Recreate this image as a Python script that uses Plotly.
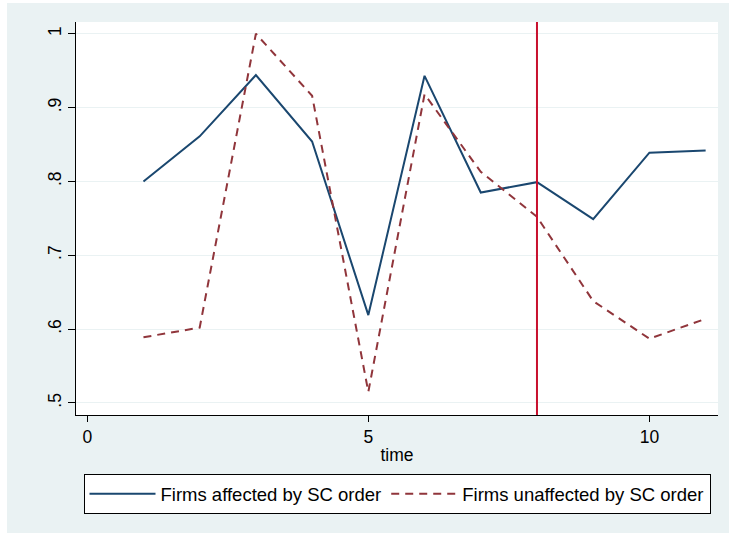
import plotly.graph_objects as go

time = [1, 2, 3, 4, 5, 6, 7, 8, 9, 10, 11]
affected = [0.800, 0.861, 0.944, 0.854, 0.619, 0.943, 0.785, 0.799, 0.749, 0.839, 0.842]
unaffected = [0.589, 0.602, 1.000, 0.916, 0.515, 0.918, 0.813, 0.752, 0.638, 0.587, 0.614]
event_time = 8
y_ticks = [0.5, 0.6, 0.7, 0.8, 0.9, 1.0]
y_ticktext = [".5", ".6", ".7", ".8", ".9", "1"]
x_ticks = [0, 5, 10]

BG = "#EAF2F3"
FONT = "Liberation Sans, Arial, sans-serif"
FS = 17.5

fig = go.Figure()
fig.add_trace(go.Scatter(x=time, y=affected, mode="lines", name="Firms affected by SC order",
                         line=dict(color="#1A476F", width=2)))
fig.add_trace(go.Scatter(x=time, y=unaffected, mode="lines", name="Firms unaffected by SC order",
                         line=dict(color="#90353B", width=2, dash="8px,6px")))

fig.add_vline(x=event_time, line=dict(color="#C8102E", width=2), layer="above")

# white outer border strips (outside the light background)
fig.add_shape(type="rect", xref="paper", yref="paper", x0=-0.3, x1=-0.1075, y0=-0.5, y1=1.3,
              fillcolor="white", line_width=0, layer="above")
fig.add_shape(type="rect", xref="paper", yref="paper", x0=-0.3, x1=1.3, y0=1.0484, y1=1.3,
              fillcolor="white", line_width=0, layer="above")

fig.update_layout(
    width=729, height=533,
    margin=dict(l=76, r=11, t=22, b=118),
    paper_bgcolor=BG, plot_bgcolor="white",
    font=dict(family=FONT, size=FS, color="black"),
    showlegend=True,
    legend=dict(orientation="h", x=0.5, xanchor="center", y=-0.151, yanchor="top",
                bgcolor="white", bordercolor="black", borderwidth=1,
                font=dict(size=18.5), itemwidth=66),
)
fig.update_xaxes(range=[-0.2, 11.22], tickvals=x_ticks, showgrid=False, zeroline=False,
                 showline=True, linecolor="black", linewidth=1,
                 ticks="outside", ticklen=6, tickcolor="black",
                 title=dict(text="time", standoff=2, font=dict(size=FS)))
fig.update_yaxes(range=[0.4837, 1.0159], tickvals=y_ticks, ticktext=y_ticktext,
                 tickangle=-90, showgrid=True, gridcolor=BG, gridwidth=1, zeroline=False,
                 showline=True, linecolor="black", linewidth=1,
                 ticks="outside", ticklen=7, tickcolor="black")

fig.write_html("out.html", config={"displayModeBar": False},
               post_script="document.body.style.margin='0';")
